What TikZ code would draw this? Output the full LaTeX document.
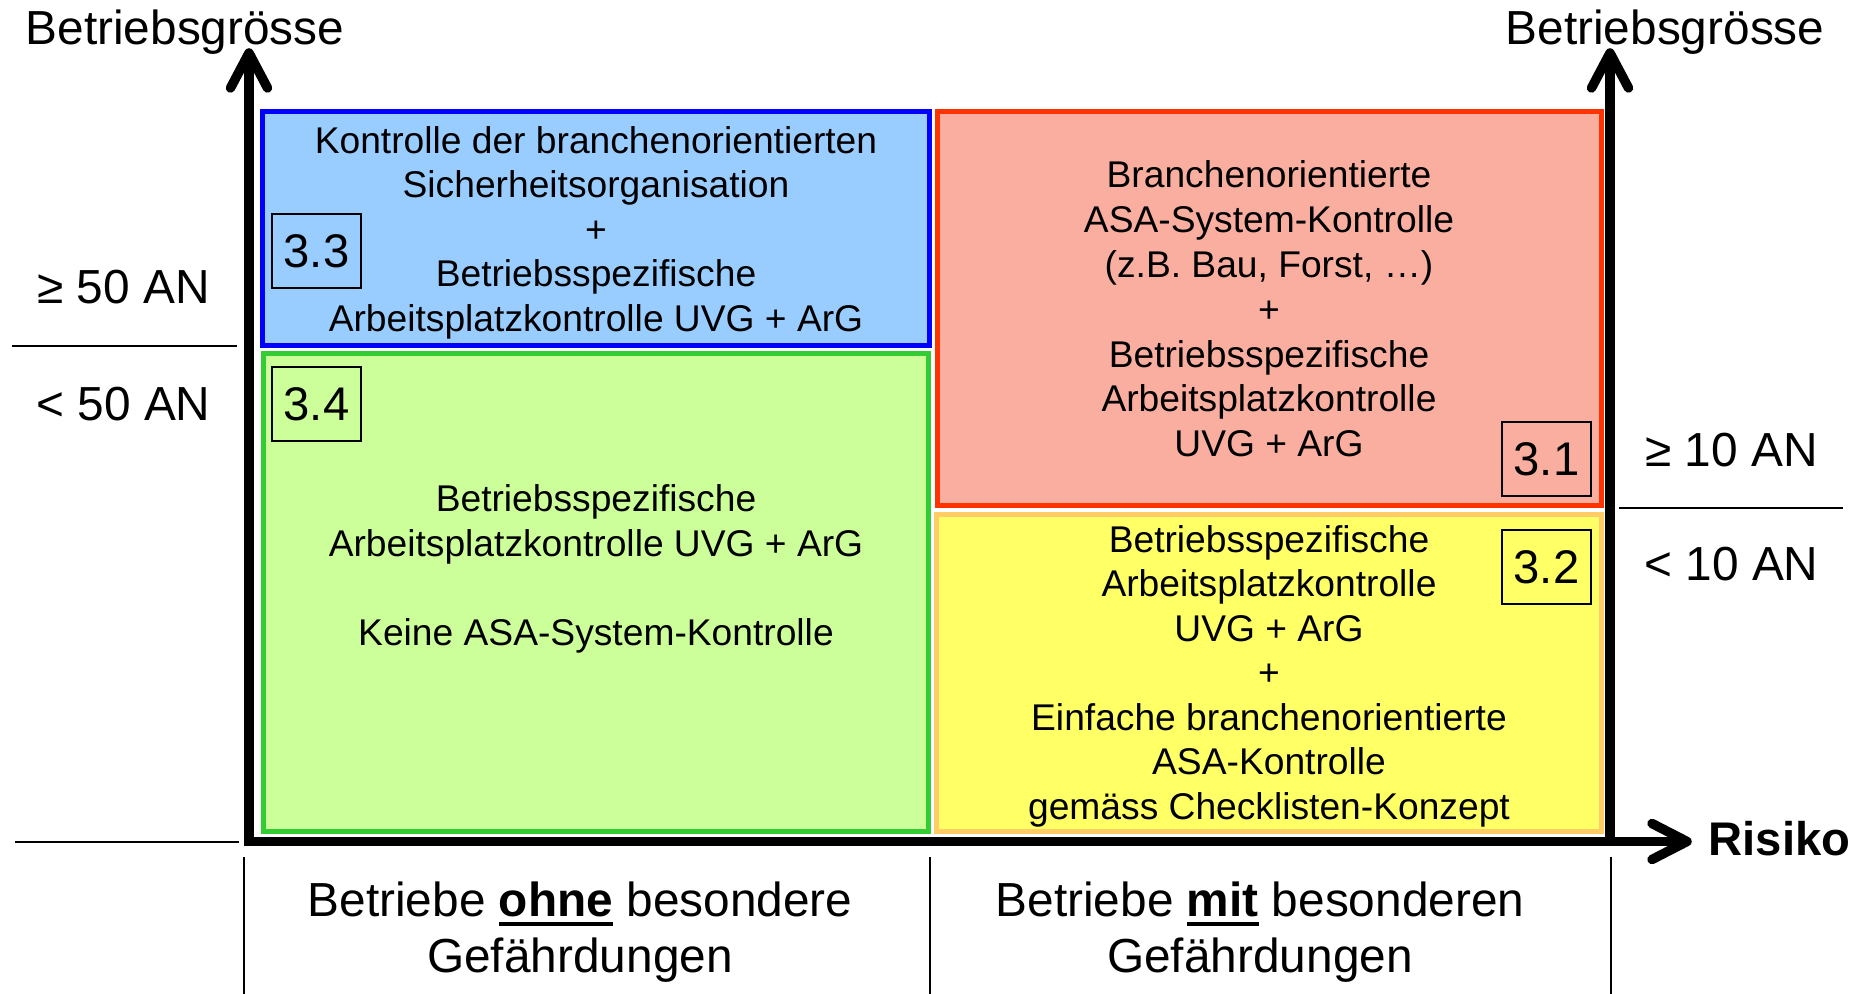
\documentclass[tikz,border=0pt]{standalone}
\usepackage{fontspec}
\setmainfont{Liberation Sans}
\definecolor{blueline}{HTML}{0000FF}
\definecolor{bluefill}{HTML}{99CCFF}
\definecolor{greenline}{HTML}{33CC33}
\definecolor{greenfill}{HTML}{CCFF99}
\definecolor{redline}{HTML}{FF3300}
\definecolor{redfill}{HTML}{FAAE9F}
\definecolor{yelline}{HTML}{FFCC66}
\definecolor{yelfill}{HTML}{FFFF66}
\newsavebox\myulbox
\newcommand\myul[1]{\sbox\myulbox{\bfseries #1}\rlap{\rule[-5pt]{\wd\myulbox}{2pt}}\usebox\myulbox}
\begin{document}
\begin{tikzpicture}[x=0.5pt,y=-0.5pt,
  axisline/.style={line width=4.75pt, line join=miter},
  head/.style={line width=4.75pt, line cap=round, line join=round},
  thinline/.style={line width=1pt},
  field/.style={line width=2.5pt},
  boxtext/.style={font=\fontsize{18.6pt}{22.25pt}\selectfont, align=center, anchor=north, inner sep=0pt},
  lab/.style={font=\fontsize{23.9pt}{28pt}\selectfont, anchor=base, inner sep=0pt},
  twolab/.style={font=\fontsize{23.9pt}{28pt}\selectfont, align=center, anchor=north, inner sep=0pt},
  numbox/.style={draw, line width=1pt, minimum width=44.5pt, minimum height=37pt, inner sep=0pt, font=\fontsize{23.6pt}{28pt}\selectfont}]
\useasboundingbox[fill=white] (0,0) rectangle (1860,994);

% coloured fields
\draw[field, draw=blueline, fill=bluefill] (262.5,111.5) rectangle (929.5,345.5);
\draw[field, draw=greenline, fill=greenfill] (263.5,353.5) rectangle (928.5,831.5);
\draw[field, draw=redline, fill=redfill] (937.5,111.5) rectangle (1601.5,505.5);
\draw[field, draw=yelline, fill=yelfill] (936.5,514.5) rectangle (1601.5,831.5);

% axes
\coordinate (ytop) at (249,52);
\coordinate (origin) at (249,841.5);
\coordinate (xend) at (1688,841.5);
\coordinate (rbottom) at (1610,841.5);
\coordinate (rtop) at (1610,52);
\draw[axisline] (ytop) -- (origin) -- (xend);
\draw[axisline] (rbottom) -- (rtop);
\draw[head] (230.5,88) -- (249,53) -- (267.5,88);
\draw[head] (1591.5,88) -- (1610,53) -- (1628.5,88);
\draw[head] (1652,823.5) -- (1687,841.5) -- (1652,859.5);

% thin lines
\coordinate (s1a) at (12,346); \coordinate (s1b) at (237,346);
\coordinate (s2a) at (15,842); \coordinate (s2b) at (239,842);
\coordinate (s3a) at (1619,508); \coordinate (s3b) at (1843,508);
\draw[thinline] (s1a) -- (s1b);
\draw[thinline] (s2a) -- (s2b);
\draw[thinline] (s3a) -- (s3b);
\coordinate (v1a) at (244,857); \coordinate (v1b) at (244,994);
\coordinate (v2a) at (930,857); \coordinate (v2b) at (930,994);
\coordinate (v3a) at (1611,857); \coordinate (v3b) at (1611,994);
\draw[thinline] (v1a) -- (v1b);
\draw[thinline] (v2a) -- (v2b);
\draw[thinline] (v3a) -- (v3b);

% axis labels
\node[lab] (ylab1) at (185,45) {Betriebsgrösse};
\node[lab] (ylab2) at (1665,45) {Betriebsgrösse};
\node[lab] (ge50) at (123.5,304) {≥ 50 AN};
\node[lab] (lt50) at (123.5,421) {< 50 AN};
\node[lab] (ge10) at (1731.5,467) {≥ 10 AN};
\node[lab] (lt10) at (1731.5,581) {< 10 AN};
\node[lab, font=\fontsize{23.6pt}{28pt}\selectfont\bfseries] (risiko) at (1779.5,856) {Risiko};
\node[twolab] (ohne) at (580,876.8) {\strut Betriebe \myul{ohne} besondere\\Gefährdungen};
\node[twolab] (mit) at (1260,876.8) {\strut Betriebe \myul{mit} besonderen\\Gefährdungen};

% field texts
\node[boxtext] (t33) at (596,121.85) {\strut Kontrolle der branchenorientierten\\Sicherheitsorganisation\\+\\Betriebsspezifische\\Arbeitsplatzkontrolle UVG + ArG};
\node[boxtext] (t34) at (596,480.35) {\strut Betriebsspezifische\\Arbeitsplatzkontrolle UVG + ArG\\\strut\\Keine ASA-System-Kontrolle};
\node[boxtext, font=\fontsize{18.6pt}{22.45pt}\selectfont] (t31) at (1269,155.6) {\strut Branchenorientierte\\ASA-System-Kontrolle\\(z.B. Bau, Forst, …)\\+\\Betriebsspezifische\\Arbeitsplatzkontrolle\\UVG + ArG};
\node[boxtext] (t32) at (1269,520.85) {\strut Betriebsspezifische\\Arbeitsplatzkontrolle\\UVG + ArG\\+\\Einfache branchenorientierte\\ASA-Kontrolle\\gemäss Checklisten-Konzept};

% number boxes
\node[numbox] (n33) at (316.5,251.5) {3.3};
\node[numbox] (n34) at (316.5,404) {3.4};
\node[numbox] (n31) at (1546.5,459) {3.1};
\node[numbox] (n32) at (1546.5,567) {3.2};
\end{tikzpicture}
\end{document}
